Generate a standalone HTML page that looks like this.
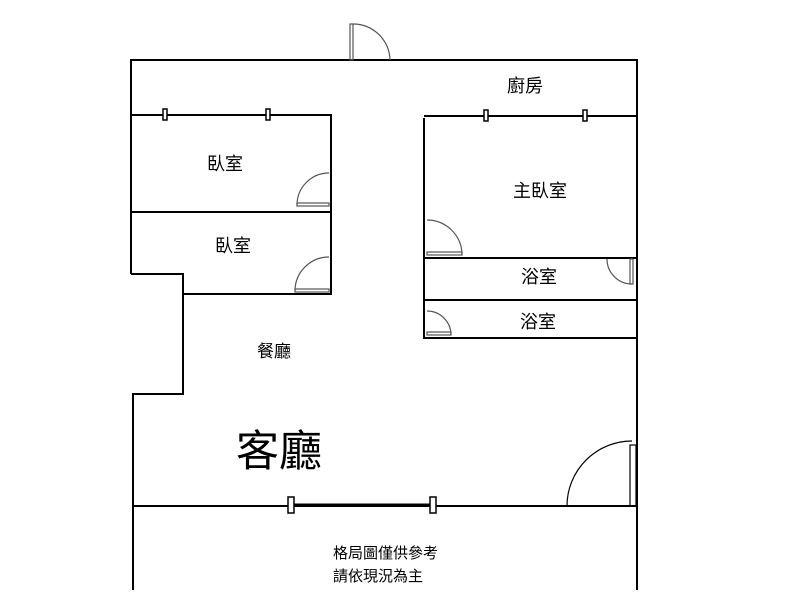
<!DOCTYPE html>
<html><head><meta charset="utf-8"><style>
html,body{margin:0;padding:0;background:#fff;width:800px;height:600px;overflow:hidden}
text{font-family:"Liberation Sans","Noto Sans CJK TC",sans-serif;fill:#000}
</style></head><body>
<svg width="800" height="600" viewBox="0 0 800 600" xmlns="http://www.w3.org/2000/svg">
<g stroke="#000" stroke-width="2" fill="none">
<polyline points="131,274 131,60 637,60 637,590"/>
<polyline points="131,274 183,274 183,394 133,394 133,590"/>
<polyline points="131,115 331,115 331,294 183,294"/>
<line x1="131" y1="212" x2="331" y2="212"/>
<polyline points="424,118 424,338 637,338"/>
<line x1="424" y1="116" x2="637" y2="116"/>
<line x1="424" y1="258" x2="637" y2="258"/>
<line x1="424" y1="300" x2="637" y2="300"/>
<line x1="133" y1="506" x2="637" y2="506"/>
<line x1="291" y1="505" x2="433" y2="505" stroke-width="3"/>
</g>
<g stroke="#000" stroke-width="1.5" fill="#fff">
<rect x="163" y="109" width="4" height="11"/>
<rect x="266" y="109" width="4" height="11"/>
<rect x="484" y="110" width="4" height="11"/>
<rect x="583" y="110" width="4" height="11"/>
<rect x="288" y="497" width="6" height="16"/>
<rect x="430" y="497" width="6" height="16"/>
</g>
<g stroke="#555" stroke-width="1.2" fill="none">
<path d="M353,24 A37,37 0 0 1 390,60"/>
<rect x="350" y="24" width="3" height="36"/>
<path d="M297,205 A32,32 0 0 1 329,173"/>
<rect x="297" y="203" width="32" height="3"/>
<path d="M295,291 A34,34 0 0 1 329,257"/>
<rect x="295" y="289" width="34" height="3"/>
<path d="M427,220 A35,35 0 0 1 462,255"/>
<rect x="427" y="252" width="35" height="3"/>
<path d="M607,259 A25,25 0 0 0 632,284"/>
<rect x="630" y="259" width="3" height="25"/>
<path d="M427,311 A24,24 0 0 1 451,335"/>
<rect x="427" y="332" width="24" height="3"/>
</g>
<g stroke="#000" stroke-width="1.2" fill="none">
<path d="M567,506 A65,65 0 0 1 632,441"/>
<rect x="630" y="445" width="6" height="61"/>
</g>
<text x="525" y="92" font-size="18" text-anchor="middle">廚房</text>
<text x="225" y="170" font-size="18" text-anchor="middle">臥室</text>
<text x="233" y="252" font-size="18" text-anchor="middle">臥室</text>
<text x="540" y="197" font-size="18" text-anchor="middle">主臥室</text>
<text x="539" y="283" font-size="18" text-anchor="middle">浴室</text>
<text x="538" y="328" font-size="18" text-anchor="middle">浴室</text>
<text x="274" y="357" font-size="17" text-anchor="middle">餐廳</text>
<text x="279" y="466" font-size="43" text-anchor="middle">客廳</text>
<text x="333" y="558" font-size="15">格局圖僅供參考</text>
<text x="333" y="581" font-size="15">請依現況為主</text>
</svg>
</body></html>
